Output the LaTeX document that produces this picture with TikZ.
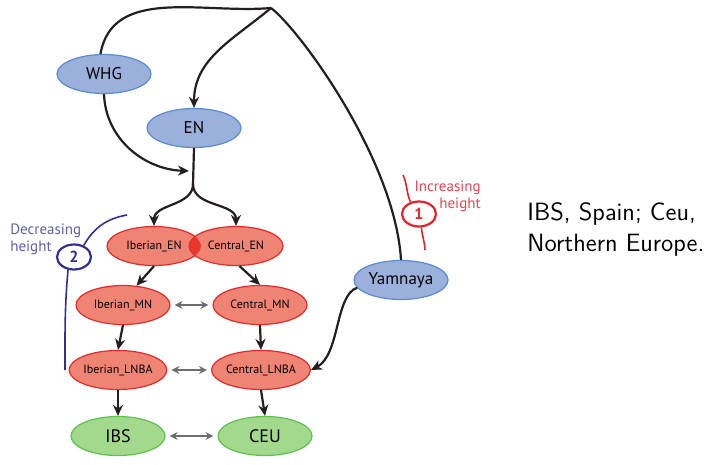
\documentclass[tikz,border=0pt]{standalone}
\usepackage{fontspec}
\newfontfamily\diagfont{PT Sans}
\usetikzlibrary{arrows.meta}
\usetikzlibrary{shapes.geometric}

\definecolor{srcfill}{HTML}{9BB0DB}
\definecolor{srcline}{HTML}{5A8AD0}
\definecolor{ancfill}{HTML}{F08474}
\definecolor{ancline}{HTML}{E62A2A}
\definecolor{modfill}{HTML}{A3D98C}
\definecolor{modline}{HTML}{5CC24A}
\definecolor{lensfill}{HTML}{E8382C}
\definecolor{arrowdark}{HTML}{231F20}
\definecolor{arrowgrey}{HTML}{6D6E71}
\definecolor{uplineRed}{HTML}{E8202A}
\definecolor{uptextRed}{HTML}{EF4050}
\definecolor{downlineBlue}{HTML}{2E3092}
\definecolor{downtextBlue}{HTML}{5B5FB0}

\tikzset{
  pop/.style={ellipse, line width=0.6pt, inner sep=0pt,
    minimum width=47pt, minimum height=19.5pt},
  source/.style={pop, draw=srcline, fill=srcfill,
    font=\diagfont\fontsize{8.5}{10}\selectfont},
  ancient/.style={pop, draw=ancline, fill=ancfill,
    font=\diagfont\fontsize{6}{7}\selectfont},
  modern/.style={pop, draw=modline, fill=modfill,
    font=\diagfont\fontsize{9}{10}\selectfont},
  flow/.style={line width=1.1pt, draw=arrowdark},
  mix/.style={<->, line width=0.8pt, draw=arrowgrey,
    >={Stealth[length=4pt,width=4pt]}, shorten <=2pt, shorten >=2pt},
  badge/.style={ellipse, line width=1.1pt, inner sep=0pt,
    minimum width=17pt, minimum height=12.5pt,
    font=\diagfont\bfseries\fontsize{8}{9}\selectfont},
}

\begin{document}
\begin{tikzpicture}[x=0.5pt,y=0.5pt,>={Stealth[length=5.5pt,width=5pt]}]
    \useasboundingbox (0,0) rectangle (711,-465);

    % sources
    \node[source] (WHG) at (104,-74) {WHG};
    \node[source] (EN) at (194,-128) {EN};
    \node[source] (Yamnaya) at (401,-280) {Yamnaya};

    % ancient populations
    \node[ancient] (IberianEN) at (154,-246) {Iberian\_EN};
    \node[ancient] (CentralEN) at (236,-246) {Central\_EN};
    \node[ancient] (IberianMN) at (123,-305) {Iberian\_MN};
    \node[ancient] (CentralMN) at (260,-305) {Central\_MN};
    \node[ancient] (IberianLNBA) at (118,-370) {Iberian\_LNBA};
    \node[ancient] (CentralLNBA) at (261,-370) {Central\_LNBA};

    \begin{scope}
      \clip (IberianEN.center) ellipse [x radius=23.5pt, y radius=9.75pt];
      \fill[lensfill] (CentralEN.center) ellipse [x radius=23.5pt, y radius=9.75pt];
    \end{scope}

    % modern samples
    \node[modern] (IBS) at (118,-436) {IBS};
    \node[modern] (CEU) at (265,-436) {CEU};

    \coordinate (top) at (271,-8);
    \coordinate (merge) at (189,-171);
    \coordinate (split) at (193,-184);

    \draw[flow] (top) to[out=185,in=80] (WHG.100);
    \draw[flow,->] (top) to[out=-140,in=90] (EN.north);
    \draw[flow] (top) .. controls (300,-30) and (395,-160) .. (Yamnaya.north);
    \draw[flow,->] (WHG.south) to[out=-88,in=178] (merge);
    \draw[flow] (EN.south) -- (split);
    \draw[flow,->] (split) to[out=-90,in=90] (IberianEN.north);
    \draw[flow,->] (split) to[out=-90,in=90] (CentralEN.north);

    \draw[flow,->] (IberianEN.south) -- (IberianMN.55);
    \draw[flow,->] (CentralEN.-80) -- (CentralMN.north);
    \draw[flow,->] (IberianMN.south) -- (IberianLNBA.north);
    \draw[flow,->] (CentralMN.south) -- (CentralLNBA.north);
    \draw[flow,->] (IberianLNBA.south) -- (IBS.north);
    \draw[flow,->] (CentralLNBA.south) -- (CEU.north);
    \draw[flow,->] (Yamnaya.190) .. controls (335,-295) and (340,-355) .. (CentralLNBA.east);

    \draw[mix] (IberianMN) -- (CentralMN);
    \draw[mix] (IberianLNBA) -- (CentralLNBA);
    \draw[mix] (IBS) -- (CEU);

    % height annotations
    \node[badge, draw=uplineRed, text=uplineRed] (incr) at (419,-214) {1};
    \coordinate (incrtop) at (403,-175);
    \coordinate (incrbot) at (425,-250);
    \draw[uplineRed, line width=0.8pt] (incrtop) to[out=-65,in=115] (incr.125);
    \draw[uplineRed, line width=0.8pt] (incr.-80) to[out=-85,in=92] (incrbot);
    \node[anchor=east, align=right, inner sep=0pt, text=uptextRed,
      font=\diagfont\fontsize{7.5}{8.5}\selectfont] (incrtext) at (481,-196) {Increasing\\height};

    \node[badge, draw=downlineBlue, text=downlineBlue] (decr) at (74,-257) {2};
    \coordinate (decrtop) at (127,-215);
    \coordinate (decrbot) at (65,-370);
    \draw[downlineBlue, line width=0.8pt] (decrtop) to[out=190,in=60] (decr.50);
    \draw[downlineBlue, line width=0.8pt] (decr.-115) to[out=-95,in=90] (decrbot);
    \node[anchor=west, align=left, inner sep=0pt, text=downtextBlue,
      font=\diagfont\fontsize{7.5}{8.5}\selectfont] (decrtext) at (10,-239) {Decreasing\\height};

    \node[anchor=west, align=left, inner sep=0pt,
      font=\sffamily\fontsize{12.5}{15.5}\selectfont] (caption) at (527,-229) {IBS, Spain; Ceu,\\Northern Europe.};
\end{tikzpicture}
\end{document}
